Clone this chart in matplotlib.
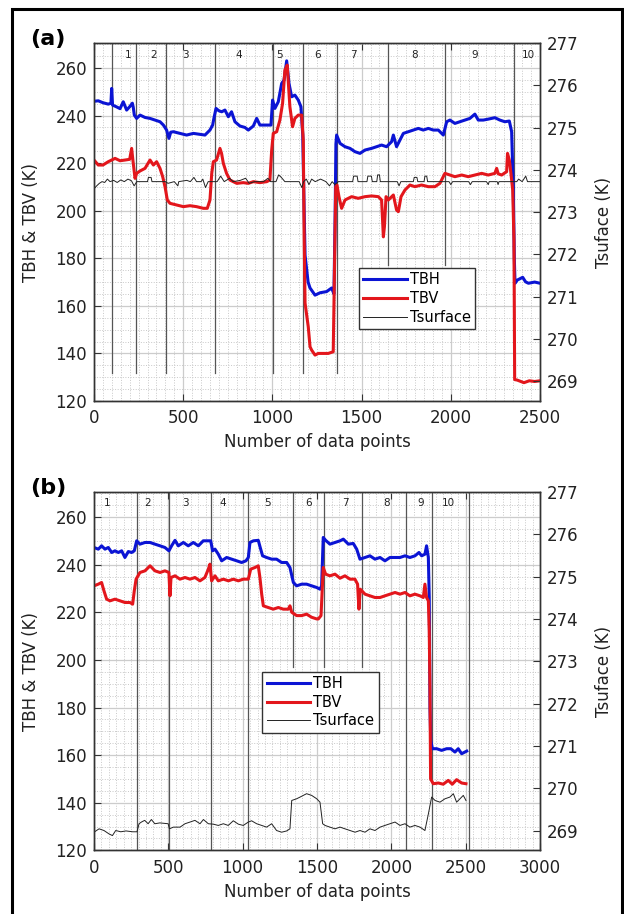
import matplotlib.pyplot as plt
import numpy as np
from matplotlib.patches import Rectangle
from matplotlib.ticker import MultipleLocator

# ---------------- panel (a): points (x, K) ----------------
a_tbh = [(0, 246.0), (24, 246.2), (50, 245.4), (80, 244.8), (95, 245.2), (99, 251.4), (104, 244.4),
         (125, 243.7), (146, 242.9), (164, 245.8), (183, 242.3), (200, 243.7), (215, 245.2), (220, 243.5),
         (226, 240.2), (239, 238.8), (258, 240.2), (286, 239.2), (314, 238.8), (342, 238.1), (370, 237.4),
         (389, 236.0), (407, 233.9), (420, 230.4), (430, 233.0), (445, 233.2), (482, 232.5), (519, 231.8),
         (557, 232.5), (594, 232.1), (622, 231.8), (650, 233.9), (665, 236.0), (672, 238.8), (684, 243.0),
         (700, 242.0), (716, 241.6), (734, 242.3), (753, 239.5), (771, 241.6), (790, 237.4), (818, 235.6),
         (846, 235.0), (865, 233.9), (893, 235.6), (912, 238.8), (930, 236.0), (968, 236.0), (992, 236.0),
         (1001, 246.5), (1014, 243.0), (1033, 245.8), (1052, 253.5), (1065, 254.9), (1080, 263.0),
         (1093, 253.5), (1108, 247.9), (1126, 248.6), (1145, 246.5), (1160, 243.7), (1170, 232.0),
         (1178, 200.0), (1183, 181.3), (1200, 170.0), (1211, 167.5), (1239, 164.5), (1267, 165.5),
         (1304, 166.0), (1332, 167.5), (1345, 165.0), (1352, 200.0), (1356, 228.0), (1360, 231.8),
         (1379, 228.3), (1407, 226.9), (1435, 226.2), (1463, 224.8), (1491, 224.1), (1519, 225.5),
         (1556, 226.2), (1584, 226.9), (1612, 227.6), (1640, 226.9), (1668, 229.0), (1678, 231.8),
         (1696, 226.9), (1715, 229.7), (1734, 232.5), (1762, 233.2), (1790, 233.9), (1818, 234.6),
         (1846, 233.9), (1874, 234.6), (1902, 233.9), (1930, 233.9), (1958, 231.8), (1977, 237.4),
         (1995, 238.1), (2023, 236.7), (2051, 237.4), (2079, 238.1), (2107, 238.8), (2135, 240.6),
         (2154, 238.1), (2182, 238.1), (2210, 238.5), (2247, 239.1), (2275, 238.1), (2303, 237.4),
         (2328, 237.7), (2341, 233.2), (2350, 210.0), (2356, 180.0), (2360, 169.5), (2372, 170.8),
         (2403, 172.0), (2419, 170.1), (2435, 169.5), (2470, 170.0), (2500, 169.5)]

a_tbv = [(0, 221.3), (24, 219.2), (50, 219.2), (80, 220.6), (99, 221.3), (118, 222.0), (146, 221.0),
         (174, 221.3), (200, 221.6), (211, 226.2), (218, 221.3), (230, 213.6), (239, 215.7), (258, 216.7),
         (286, 217.8), (314, 221.3), (333, 219.2), (351, 220.6), (370, 217.8), (385, 214.3), (398, 210.1),
         (411, 204.5), (426, 203.1), (463, 202.4), (501, 201.7), (538, 202.1), (575, 201.7), (613, 201.0),
         (635, 201.0), (650, 204.5), (660, 215.7), (669, 220.6), (687, 221.3), (706, 226.2), (715, 224.1),
         (725, 219.9), (743, 215.7), (762, 212.9), (800, 211.5), (837, 211.8), (865, 211.5), (893, 212.2),
         (930, 211.8), (968, 212.2), (986, 212.9), (996, 225.5), (1005, 232.5), (1024, 233.2),
         (1042, 238.1), (1057, 245.1), (1070, 259.1), (1083, 261.2), (1098, 243.7), (1113, 235.3),
         (1126, 238.8), (1145, 240.2), (1164, 240.2), (1173, 229.7), (1178, 190.0), (1183, 161.2),
         (1201, 151.2), (1211, 142.8), (1220, 141.4), (1239, 139.3), (1257, 140.0), (1285, 140.0),
         (1313, 140.0), (1341, 140.7), (1349, 180.0), (1355, 210.1), (1362, 210.8), (1373, 205.9),
         (1388, 201.0), (1407, 204.5), (1444, 205.9), (1481, 205.2), (1519, 205.9), (1556, 206.2),
         (1594, 205.9), (1612, 204.5), (1622, 189.0), (1628, 193.3), (1637, 205.9), (1650, 204.5),
         (1678, 206.6), (1696, 200.3), (1706, 199.6), (1721, 205.9), (1743, 208.7), (1771, 210.8),
         (1799, 210.1), (1836, 210.8), (1874, 210.1), (1911, 210.1), (1939, 211.5), (1967, 215.7),
         (1995, 215.0), (2023, 214.3), (2061, 215.0), (2098, 214.3), (2135, 215.0), (2173, 215.7),
         (2210, 215.0), (2247, 215.7), (2257, 217.8), (2266, 215.5), (2285, 215.0), (2313, 216.4),
         (2318, 224.1), (2328, 221.3), (2337, 215.7), (2347, 208.7), (2354, 187.7), (2358, 129.0),
         (2372, 128.8), (2410, 127.7), (2440, 128.5), (2470, 128.2), (2500, 128.5)]

a_tsurf = [(0, 273.55), (15, 273.62), (30, 273.68), (45, 273.72), (60, 273.70), (75, 273.78), (90, 273.72),
           (110, 273.75), (130, 273.70), (150, 273.76), (170, 273.72), (190, 273.78), (210, 273.74),
           (225, 273.62), (240, 273.72), (300, 273.72), (305, 273.82), (320, 273.82), (325, 273.72),
           (400, 273.72), (415, 273.68), (450, 273.72), (470, 273.62), (475, 273.72), (520, 273.75),
           (540, 273.72), (560, 273.82), (575, 273.72), (600, 273.72), (610, 273.78), (625, 273.58),
           (640, 273.72), (690, 273.72), (710, 273.85), (730, 273.72), (760, 273.80), (780, 273.72),
           (820, 273.75), (850, 273.80), (870, 273.68), (900, 273.72), (950, 273.72), (975, 273.80),
           (990, 273.72), (1020, 273.72), (1035, 273.88), (1050, 273.82), (1070, 273.72), (1150, 273.72),
           (1165, 273.58), (1175, 273.72), (1190, 273.78), (1205, 273.65), (1220, 273.78), (1240, 273.72),
           (1270, 273.78), (1300, 273.72), (1320, 273.62), (1335, 273.72), (1350, 273.65), (1370, 273.72),
           (1450, 273.72), (1455, 273.85), (1475, 273.85), (1480, 273.72), (1530, 273.72), (1535, 273.85),
           (1555, 273.85), (1560, 273.72), (1585, 273.72), (1590, 273.88), (1600, 273.88), (1605, 273.72),
           (1700, 273.72), (1710, 273.62), (1720, 273.72), (1790, 273.72), (1795, 273.82), (1810, 273.82),
           (1815, 273.72), (1850, 273.72), (1855, 273.85), (1865, 273.85), (1870, 273.72), (1990, 273.72),
           (2000, 273.65), (2010, 273.72), (2100, 273.72), (2110, 273.65), (2120, 273.72), (2200, 273.72),
           (2210, 273.65), (2215, 273.72), (2260, 273.72), (2265, 273.65), (2270, 273.72), (2370, 273.72),
           (2380, 273.78), (2400, 273.72), (2420, 273.85), (2430, 273.72), (2500, 273.72)]

a_div_x = [99, 235, 403, 678, 1006, 1173, 1360, 1648, 1965, 2354]
a_div_end = [131.7, 131.7, 131.7, 131.7, 131.7, 131.7, 131.7, 177, 177, 131.7]
a_seg_x = [189, 333, 510, 809, 1042, 1253, 1454, 1799, 2135, 2434]

# ---------------- panel (b) ----------------
b_tbh = [(0, 247.2), (29, 246.5), (51, 247.9), (74, 246.5), (96, 247.2), (119, 245.1), (141, 245.8),
         (164, 245.1), (186, 245.8), (208, 243.0), (231, 245.5), (253, 245.1), (271, 245.8), (287, 250.0),
         (309, 248.6), (343, 249.3), (377, 249.3), (410, 248.6), (444, 247.9), (477, 247.2), (504, 245.8),
         (522, 247.9), (545, 250.2), (567, 247.9), (601, 249.3), (634, 247.9), (668, 249.3), (702, 247.9),
         (735, 250.0), (769, 250.0), (785, 250.0), (798, 245.8), (814, 246.5), (836, 244.4), (859, 241.6),
         (892, 243.0), (926, 242.3), (960, 241.6), (993, 240.9), (1022, 241.6), (1038, 243.0),
         (1049, 249.3), (1072, 250.0), (1105, 250.2), (1118, 247.2), (1134, 243.7), (1161, 243.0),
         (1195, 242.3), (1228, 242.3), (1262, 240.9), (1296, 240.9), (1318, 238.8), (1341, 232.5),
         (1363, 231.1), (1397, 231.8), (1430, 231.8), (1464, 231.1), (1498, 230.4), (1520, 229.7),
         (1531, 231.1), (1542, 251.4), (1558, 250.2), (1587, 248.6), (1621, 249.3), (1655, 250.0),
         (1677, 250.7), (1711, 248.6), (1744, 248.9), (1767, 246.5), (1789, 242.3), (1823, 243.0),
         (1856, 243.7), (1890, 242.3), (1924, 243.0), (1957, 241.6), (1991, 243.0), (2025, 243.0),
         (2058, 243.0), (2092, 243.7), (2125, 243.0), (2159, 243.7), (2186, 245.1), (2204, 243.7),
         (2226, 244.4), (2237, 247.9), (2249, 243.0), (2255, 226.2), (2260, 180.0), (2265, 166.2),
         (2276, 162.7), (2305, 162.7), (2338, 162.0), (2372, 162.7), (2400, 162.7), (2428, 161.3),
         (2450, 162.7), (2473, 160.6), (2507, 161.7)]

b_tbv = [(0, 231.1), (29, 231.8), (51, 232.5), (67, 229.0), (85, 225.5), (108, 224.8), (141, 225.5),
         (175, 224.8), (208, 224.1), (242, 224.1), (260, 223.4), (271, 229.0), (283, 233.9), (309, 236.7),
         (343, 237.4), (377, 239.5), (410, 237.4), (444, 236.7), (477, 237.4), (504, 236.7), (511, 226.9),
         (518, 234.6), (545, 235.3), (578, 233.9), (612, 234.6), (646, 233.9), (679, 234.6), (713, 233.2),
         (746, 234.6), (769, 238.1), (780, 240.2), (791, 233.2), (814, 235.3), (836, 233.2), (870, 233.9),
         (904, 233.2), (937, 233.9), (971, 233.2), (1004, 233.9), (1038, 233.9), (1054, 238.1),
         (1083, 238.8), (1105, 239.5), (1116, 234.6), (1128, 227.6), (1139, 222.7), (1172, 222.0),
         (1206, 221.3), (1240, 222.0), (1273, 221.3), (1307, 221.3), (1318, 222.7), (1330, 220.0),
         (1363, 218.6), (1397, 218.6), (1430, 219.2), (1464, 217.9), (1498, 217.2), (1509, 217.2),
         (1527, 218.6), (1542, 238.8), (1558, 236.0), (1587, 235.3), (1621, 236.0), (1655, 234.3),
         (1688, 235.3), (1722, 233.9), (1755, 233.9), (1773, 231.8), (1782, 221.3), (1791, 229.7),
         (1823, 227.6), (1856, 226.9), (1890, 226.2), (1924, 226.2), (1957, 226.9), (1991, 227.6),
         (2025, 228.3), (2058, 227.6), (2092, 228.3), (2125, 226.9), (2159, 227.6), (2193, 226.9),
         (2215, 226.2), (2226, 231.8), (2237, 226.2), (2249, 224.8), (2255, 212.3), (2260, 187.0),
         (2264, 150.0), (2282, 148.0), (2316, 148.3), (2349, 147.8), (2383, 149.4), (2410, 147.8),
         (2439, 149.7), (2473, 148.3), (2502, 148.0)]

b_tsurf = [(0, 268.96), (34, 269.04), (67, 269.0), (101, 268.92), (124, 268.88), (146, 269.0), (180, 268.97),
           (215, 268.99), (260, 268.97), (289, 268.97), (303, 269.16), (319, 269.2), (341, 269.24),
           (364, 269.16), (386, 269.26), (409, 269.16), (443, 269.18), (499, 269.16), (507, 269.04),
           (534, 269.08), (579, 269.08), (612, 269.16), (646, 269.2), (679, 269.24), (713, 269.16),
           (736, 269.26), (769, 269.16), (803, 269.15), (836, 269.12), (870, 269.16), (903, 269.12),
           (937, 269.23), (971, 269.15), (1004, 269.12), (1038, 269.2), (1060, 269.23), (1094, 269.16),
           (1128, 269.12), (1161, 269.08), (1195, 269.16), (1228, 269.0), (1262, 268.96), (1296, 268.99),
           (1318, 269.04), (1330, 269.71), (1363, 269.75), (1386, 269.79), (1430, 269.87), (1464, 269.83),
           (1498, 269.75), (1520, 269.67), (1538, 269.16), (1554, 269.12), (1587, 269.08), (1621, 269.04),
           (1655, 269.08), (1688, 269.04), (1722, 269.0), (1756, 268.96), (1789, 269.0), (1823, 268.96),
           (1856, 269.04), (1890, 269.0), (1924, 269.08), (1957, 269.12), (1991, 269.16), (2025, 269.2),
           (2058, 269.12), (2092, 269.16), (2125, 269.08), (2159, 269.12), (2193, 269.08), (2226, 269.0),
           (2249, 269.39), (2271, 269.79), (2294, 269.71), (2327, 269.67), (2361, 269.75), (2394, 269.79),
           (2417, 269.87), (2439, 269.67), (2462, 269.75), (2484, 269.83), (2502, 269.71)]

b_div_x = [291, 504, 785, 1034, 1341, 1545, 1800, 2097, 2272, 2522]
b_div_end = [120, 120, 120, 120, 197, 197, 197, 120, 120, 120]
b_seg_x = [85, 361, 617, 865, 1166, 1442, 1693, 1968, 2199, 2383]

seg_names = ["1", "2", "3", "4", "5", "6", "7", "8", "9", "10"]

BLUE = "#0b14d4"
RED = "#e3161c"
DARK = "#333333"

fig = plt.figure(figsize=(6.24, 9.14), dpi=100)

# outer frame of the figure
fig.add_artist(Rectangle((12 / 624, -0.01), 610 / 624, 1 - 9 / 914 + 0.01, transform=fig.transFigure,
                         fill=False, edgecolor="black", linewidth=2.2))


def draw_panel(rect, tbh, tbv, tsurf, div_x, div_end, seg_x, seg_y, xmax, legend_xy, tag, tag_y):
    ax = fig.add_axes(rect)
    ax2 = ax.twinx()

    # grid, drawn behind everything
    ax.set_axisbelow(True)
    ax.xaxis.set_major_locator(MultipleLocator(500))
    ax.xaxis.set_minor_locator(MultipleLocator(50))
    ax.yaxis.set_major_locator(MultipleLocator(20))
    ax.yaxis.set_minor_locator(MultipleLocator(5))
    ax.grid(which="major", color="#cccccc", linestyle="-", linewidth=0.9)
    ax.grid(which="minor", color="#c8c8c8", linestyle=":", linewidth=0.7)

    # segment dividers and their numbers
    for xd, ye in zip(div_x, div_end):
        ax.plot([xd, xd], [ye, 270.5], color="#555555", linewidth=0.9, zorder=2)
    for xs, name in zip(seg_x, seg_names):
        ax.text(xs, seg_y, name, fontsize=7.5, ha="center", va="center", color="#222222")

    tbh = np.array(tbh).T
    tbv = np.array(tbv).T
    tsurf = np.array(tsurf).T
    h1, = ax.plot(tbh[0], tbh[1], color=BLUE, linewidth=2.2, zorder=3)
    h2, = ax.plot(tbv[0], tbv[1], color=RED, linewidth=2.2, zorder=3)
    h3, = ax2.plot(tsurf[0], tsurf[1], color="#222222", linewidth=0.7)

    ax.set_xlim(0, xmax)
    ax.set_ylim(120, 270.5)
    ax2.set_ylim(268.53, 277)
    ax2.yaxis.set_major_locator(MultipleLocator(1))

    ax.tick_params(which="major", direction="in", length=5, width=0.8, labelsize=12,
                   top=True, right=False, pad=5, labelcolor="#222222", color=DARK)
    ax.tick_params(axis="x", pad=6)
    ax.tick_params(which="minor", length=0)
    ax2.tick_params(axis="y", direction="in", length=5, width=0.8, labelsize=12, pad=5,
                    labelcolor="#222222", color=DARK)
    for a in (ax, ax2):
        for sp in a.spines.values():
            sp.set_color(DARK)
            sp.set_linewidth(1.0)

    ax.set_xlabel("Number of data points", fontsize=12, color="#222222")
    ax.set_ylabel("TBH & TBV (K)", fontsize=12, color="#222222")
    ax2.set_ylabel("Tsuface (K)", fontsize=12, color="#222222")
    ax.yaxis.set_label_coords(-0.12, 0.5)
    ax2.yaxis.set_label_coords(1.123, 0.5)
    ax.xaxis.set_label_coords(0.5, -0.09)

    leg = ax2.legend([h1, h2, h3], ["TBH", "TBV", "Tsurface"], loc="lower left", bbox_to_anchor=legend_xy,
                     borderaxespad=0, fontsize=10.5, fancybox=False, framealpha=1, edgecolor=DARK,
                     handlelength=3.0, handletextpad=0.2, labelspacing=0.25, borderpad=0.3)
    leg.get_frame().set_linewidth(1.0)

    fig.text(30 / 624, tag_y, tag, fontsize=16, fontweight="bold", ha="left", va="center")
    return ax, ax2


draw_panel([94 / 624, 1 - 401 / 914, 446 / 624, 358 / 914], a_tbh, a_tbv, a_tsurf, a_div_x, a_div_end,
           a_seg_x, 265.4, 2500, (0.594, 0.201), "(a)", 1 - 39 / 914)
draw_panel([94 / 624, 1 - 850.4 / 914, 446 / 624, 358.4 / 914], b_tbh, b_tbv, b_tsurf, b_div_x, b_div_end,
           b_seg_x, 266, 3000, (0.377, 0.328), "(b)", 1 - 488 / 914)

fig.savefig("out.png", dpi=100)
